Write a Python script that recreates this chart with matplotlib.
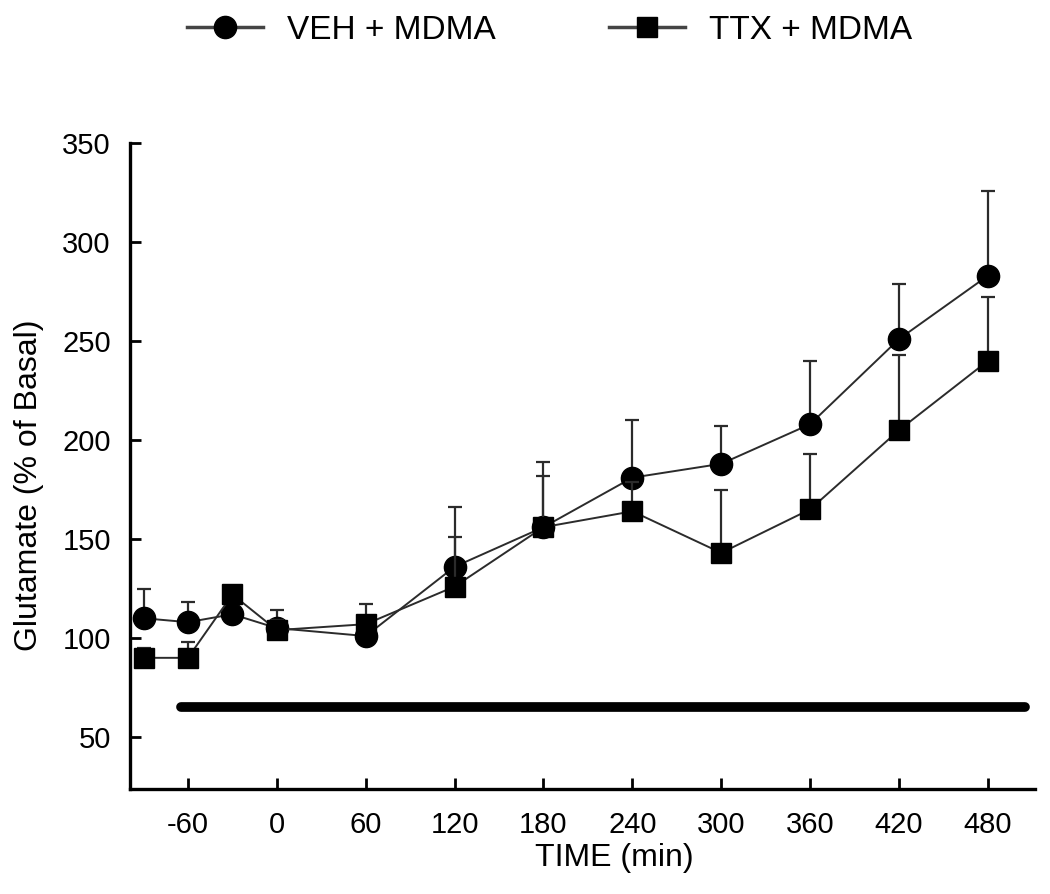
import matplotlib
matplotlib.use("Agg")
import matplotlib.pyplot as plt
from matplotlib.lines import Line2D

plt.rcParams["font.family"] = ["Liberation Sans", "DejaVu Sans"]
plt.rcParams["axes.unicode_minus"] = False

# sampling times (min)
time_min = [-90, -60, -30, 0, 60, 120, 180, 240, 300, 360, 420, 480]

veh_mean = [110, 108, 112, 105, 101, 136, 156, 181, 188, 208, 251, 283]
veh_sem = [15, 10, 5, 9, 6, 30, 33, 29, 19, 32, 28, 43]

ttx_mean = [90, 90, 122, 104, 107, 126, 156, 164, 143, 165, 205, 240]
ttx_sem = [5, 8, 4, 5, 10, 25, 26, 15, 32, 28, 38, 32]

xticks = [-60, 0, 60, 120, 180, 240, 300, 360, 420, 480]
yticks = [50, 100, 150, 200, 250, 300, 350]

# MDMA treatment bar
bar_start, bar_end, bar_level = -65, 505, 65

fig = plt.figure(figsize=(10.5, 8.94), dpi=100)
ax = fig.add_axes([0.124, 0.118, 0.862, 0.722])

line_kw = dict(color="#2b2b2b", linewidth=1.4, ecolor="#2b2b2b", elinewidth=1.6,
               capsize=5, capthick=1.6, markerfacecolor="black", markeredgecolor="black")

ax.errorbar(time_min, veh_mean, yerr=[[0] * len(veh_sem), veh_sem], marker="o",
            markersize=16, zorder=3, **line_kw)
ax.errorbar(time_min, ttx_mean, yerr=[[0] * len(ttx_sem), ttx_sem], marker="s",
            markersize=15, zorder=4, **line_kw)

ax.plot([bar_start, bar_end], [bar_level, bar_level], color="black", linewidth=7,
        solid_capstyle="round", zorder=2)

ax.set_xlim(-99, 512)
ax.set_ylim(24, 350)
ax.set_xticks(xticks)
ax.set_yticks(yticks)
ax.tick_params(axis="both", direction="in", length=8, width=2, labelsize=21)
ax.tick_params(axis="y", pad=14)
ax.tick_params(axis="x", pad=16)

for side in ["top", "right"]:
    ax.spines[side].set_visible(False)
for side in ["left", "bottom"]:
    ax.spines[side].set_linewidth(2.4)

ax.set_xlabel("TIME (min)", fontsize=23)
ax.xaxis.set_label_coords(0.535, -0.085)
ax.set_ylabel("Glutamate (% of Basal)", fontsize=23)
ax.yaxis.set_label_coords(-0.095, 0.47)

handles = [
    Line2D([], [], color="#444444", linewidth=2.5, marker="o", markersize=16,
           markerfacecolor="black", markeredgecolor="black"),
    Line2D([], [], color="#444444", linewidth=2.5, marker="s", markersize=14,
           markerfacecolor="black", markeredgecolor="black"),
]
fig.legend(handles, ["VEH + MDMA", "TTX + MDMA"], loc="center",
           bbox_to_anchor=(0.523, 0.966), ncol=2, frameon=False,
           fontsize=24, handlelength=2.3, handletextpad=0.7, columnspacing=3.4)

fig.savefig("out.png", dpi=100)
plt.close(fig)
